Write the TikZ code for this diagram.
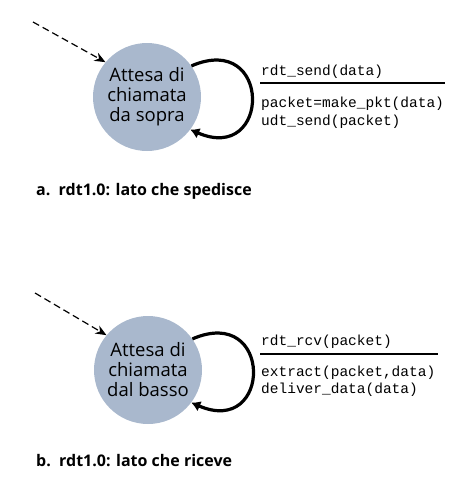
\documentclass[tikz,border=0pt]{standalone}
\usepackage{fontspec}
\setmainfont{Open Sans}
\setmonofont{Liberation Mono}
\usetikzlibrary{arrows.meta}
\definecolor{statofill}{HTML}{A9B8CD}
\tikzset{
    stato/.style={circle,fill=statofill,minimum size=108pt,inner sep=0pt,align=center,
        font=\fontsize{18.5}{20}\selectfont},
    azione/.style={anchor=base west,inner sep=0pt,font=\ttfamily\fontsize{14.5}{18}\selectfont},
    didascalia/.style={anchor=base west,inner sep=0pt,font=\bfseries\fontsize{16}{20}\selectfont},
    iniziale/.style={dashed,dash pattern=on 7pt off 4pt,line width=1.2pt,-{Stealth[length=11pt,width=9pt]}},
    selfloop/.style={line width=3.2pt,-{Latex[length=9pt,width=11pt]}},
    riga/.style={line width=1.2pt}
}
\begin{document}
\begin{tikzpicture}[x=1pt,y=-1pt]
    	\useasboundingbox (0,0) rectangle (462,480);

    	% a. lato che spedisce
    	\node[stato] (sa) at (147,97) {Attesa di\\chiamata\\da sopra};
    	\coordinate (ia) at (33,22);
    	\draw[iniziale] (ia) -- (sa.140);
    	\draw[selfloop] (sa.35) .. controls +(81,-35) and +(81,35) .. (sa.-37);
    	\node[azione] (eva) at (261,75) {rdt\_send(data)};
    	\coordinate (ra1) at (260,83);
    	\coordinate (ra2) at (445,83);
    	\draw[riga] (ra1) -- (ra2);
    	\node[azione] (aza1) at (261,107) {packet=make\_pkt(data)};
    	\node[azione] (aza2) at (261,125) {udt\_send(packet)};
    	\node[didascalia] (ca) at (36,195) {a.\ \ rdt1.0: lato che spedisce};

    	% b. lato che riceve
    	\node[stato] (sb) at (148,370) {Attesa di\\chiamata\\dal basso};
    	\coordinate (ib) at (35,293);
    	\draw[iniziale] (ib) -- (sb.140);
    	\draw[selfloop] (sb.35) .. controls +(81,-35) and +(81,35) .. (sb.-37);
    	\node[azione] (evb) at (261,345) {rdt\_rcv(packet)};
    	\coordinate (rb1) at (260,354);
    	\coordinate (rb2) at (438,354);
    	\draw[riga] (rb1) -- (rb2);
    	\node[azione] (azb1) at (261,376) {extract(packet,data)};
    	\node[azione] (azb2) at (261,393) {deliver\_data(data)};
    	\node[didascalia] (cb) at (36,466) {b.\ \ rdt1.0: lato che riceve};
    \end{tikzpicture}
\end{document}
